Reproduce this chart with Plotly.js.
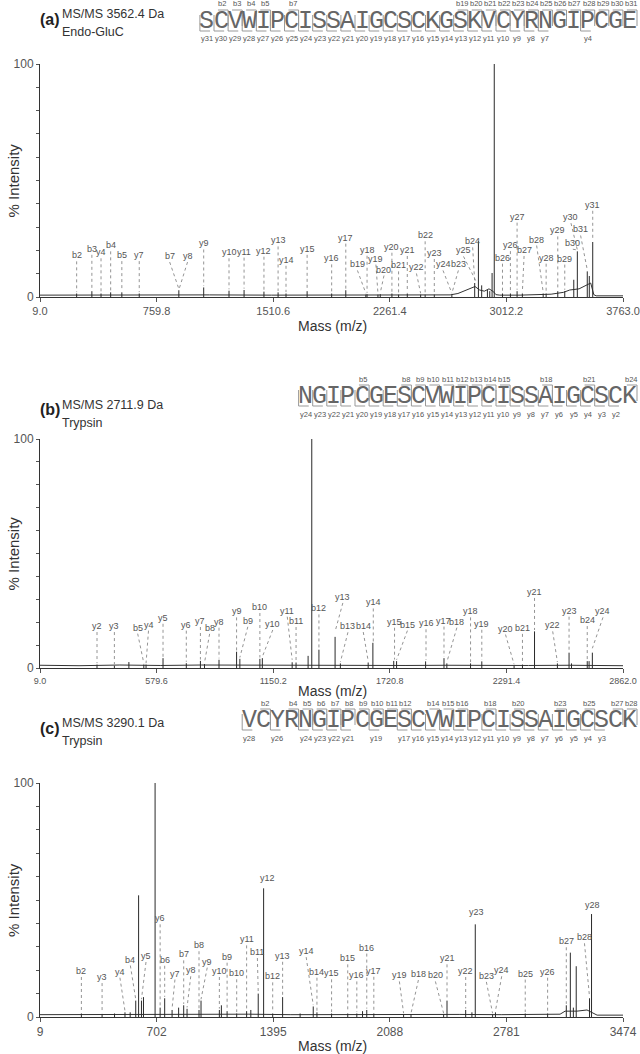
<!DOCTYPE html>
<html><head><meta charset="utf-8">
<script src="https://cdn.plot.ly/plotly-3.0.1.min.js"></script>
<style>
body{margin:0;background:#fff}
#chart{width:640px;height:1054px}
</style>
</head><body><div id="chart"></div>
<script>
// ---------------- Panel (a) ----------------
const aTitle = 'MS/MS 3562.4 Da';
const aEnzyme = 'Endo-GluC';
const aTickVals = [9.0, 759.8, 1510.6, 2261.4, 3012.2, 3763.0];
const aRange = [9.0, 3763.0];
const aPeakMz = [245,343,402,464,536,648,903,1063,1226,1323,1451,1542,1593,1729,1887,1978,2107,2115,2185,2200,2275,2318,2374,2460,2489,2548,2661,2808,2832,2853,2890,2905,2920,2934,2987,3038,3081,3115,3249,3268,3343,3388,3446,3469,3533,3546,3568];
const aPeakInt = [1.5,2.5,1.5,2,2,1.5,2.9,4.1,2.7,3,2.3,2,1.5,2.5,1.5,2.9,1,1.2,1,1.2,1.5,1,1.5,1,1,1,1,6,24,5,3,2.5,10.3,100,1.5,1.5,2.5,1.5,1.5,1.5,2.5,2.5,7.4,19.6,11,9,23.6];
const aBaseMz = [9,300,700,1100,1500,1900,2300,2650,2700,2740,2780,2810,2840,2870,2900,2925,2945,2970,3100,3300,3380,3420,3480,3520,3555,3575,3590,3763];
const aBaseInt = [0.8,0.9,0.8,0.9,0.8,0.9,0.8,0.9,1.5,2.5,3.5,4.5,3,2.5,3.5,2.5,1,0.8,0.8,1.2,2,3,3.5,5,6,1,0.5,0.5];
const aLabel = ['b2','b3','y4','b4','b5','y7','b7','y8','y9','y10','y11','y12','y13','y14','y15','y16','y17','b19','y18','y19','b20','y20','b21','y21','y22','b22','y23','y24','b23','y25','b24','b25','b26','y26','y27','b27','b28','y28','y29','b29','b30','y30','b31','y31'];
const aLabelMz = [245,343,402,464,536,648,844,959,1063,1226,1323,1451,1542,1593,1729,1887,1978,2053,2115,2172,2224,2275,2318,2374,2433,2489,2548,2604,2703,2736,2795,2934,2987,3038,3081,3126,3207,3268,3343,3388,3440,3428,3490,3568];
const aLabelInt = [15.3,18.1,16.6,19.6,15.4,15.4,15,15,20.4,16.6,16.9,17.3,21.7,13.4,18.1,14,22.9,11.4,17.7,13.9,9.2,19,11,17.6,10.1,23.9,16.3,11.4,11.4,17.4,21.3,101,14.3,19.7,31.9,17.6,22.1,14.3,26,13.9,20.5,31.7,26.4,37];
const aTargetMz = [245,343,402,464,536,648,903,905,1063,1226,1323,1451,1542,1593,1729,1887,1978,2107,2115,2185,2200,2275,2318,2374,2460,2489,2548,2661,2661,2818,2808,2934,2987,3038,3081,3115,3249,3268,3343,3388,3469,3469,3533,3568];
const aTargetInt = [1.5,2.5,1.5,2,2,1.5,2.9,2.9,4.1,2.7,3,2.3,2,1.5,2.5,1.5,2.9,1,1.2,1,1.2,1.5,1,1.5,1,1,1,1,1,6,6,101,1.5,1.5,2.5,1.5,1.5,1.5,2.5,2.5,19.6,19.6,11,23.6];
const aSeq = 'SCVWIPCISSAIGCSCKGSKVCYRNGIPCGE';
const aBIons = [2,3,4,5,7,19,20,21,22,23,24,25,26,27,28,29,30,31];
const aYIons = [31,30,29,28,27,26,25,24,23,22,21,20,19,18,17,16,15,14,13,12,11,10,9,8,7,4];

// ---------------- Panel (b) ----------------
const bTitle = 'MS/MS 2711.9 Da';
const bEnzyme = 'Trypsin';
const bTickVals = [9.0, 579.6, 1150.2, 1720.8, 2291.4, 2862.0];
const bRange = [9.0, 2862.0];
const bPeakMz = [288,373,444,517,528,611,725,794,814,885,971,987,1085,1097,1243,1262,1321,1339,1374,1453,1479,1615,1638,1740,1754,1896,1986,2000,2116,2171,2329,2370,2429,2541,2598,2610,2687,2696,2712];
const bPeakInt = [1.5,1,2.6,1.5,1.5,4.3,2.1,3.1,1.7,3.6,7.1,4,4,4.3,2.5,2.4,5.3,100,8,13.6,2,2.4,11,3.1,3,2.9,4.3,2,2,2.9,1,1.5,16,2,6.7,2,3,3,6.7];
const bBaseMz = [9,200,400,600,800,1000,1200,1400,1600,1800,2000,2200,2400,2600,2800,2862];
const bBaseInt = [1.2,1.0,1.3,1.1,1.3,1.2,1.3,1.1,1.2,1.1,1.2,1.0,1.1,1.2,1.0,1.0];
const bLabel = ['y2','y3','b5','y4','y5','y6','y7','b8','y8','y9','b9','b10','y10','y11','b11','y12','b12','y13','b13','b14','y14','y15','b15','y16','y17','b18','y18','y19','y20','b21','y21','y22','y23','b24','y24'];
const bLabelMz = [288,373,487,540,611,725,794,839,885,971,1026,1085,1148,1219,1262,1339,1374,1491,1516,1591,1640,1744,1807,1898,1986,2049,2116,2171,2287,2370,2429,2518,2598,2687,2764];
const bLabelInt = [15.7,15.7,15,16.3,19.3,16.3,17.9,14.9,17.6,22.1,18,24,16.6,22.4,17.9,101,23.4,28.4,15.6,15.7,26,17.6,16.3,16.9,18.1,17.6,22.1,16.7,14.6,14.9,30.6,16,22.4,18.3,22.1];
const bTargetMz = [288,373,517,528,611,725,794,814,885,971,987,1085,1097,1243,1262,1339,1374,1453,1479,1615,1640,1744,1754,1898,1986,2000,2116,2171,2329,2370,2429,2541,2598,2687,2712];
const bTargetInt = [1.5,1,1.5,1.5,4.3,2.1,3.1,1.7,3.6,7.1,4,4,4.3,3,2.4,101,8,15.3,2,2.4,11,3.1,3,2.9,4.3,2,2,2.9,1,1.5,16,2,6.7,3,8];
const bSeq = 'NGIPCGESCVWIPCISSAIGCSCK';
const bBIons = [5,8,9,10,11,12,13,14,15,18,21,24];
const bYIons = [24,23,22,21,20,19,18,17,16,15,14,13,12,11,10,9,8,7,6,5,4,3,2];

// ---------------- Panel (c) ----------------
const cTitle = 'MS/MS 3290.1 Da';
const cEnzyme = 'Trypsin';
const cTickVals = [9, 702, 1395, 2088, 2781, 3474];
const cRange = [9, 3474];
const cPeakMz = [255,378,452,514,545,578,595,612,624,693,723,750,794,833,863,883,954,966,1075,1087,1121,1178,1237,1262,1306,1338,1392,1451,1555,1633,1655,1742,1838,1892,1926,1951,1993,2170,2214,2408,2428,2539,2576,2596,2699,2716,2893,3026,3137,3161,3179,3196,3275,3287];
const cPeakInt = [1.5,1,1.5,2,2,7,52,7,8.5,100,4,8,3,4,5,3.5,3,7,3,5,2.5,1.5,2.5,3,10,55,1.5,8.5,1.5,4.5,2,1.5,1.5,1.5,2.5,3,1.5,1,1,1,7,3,2,39.6,1,2,1.5,1.5,5,27.5,4,21.7,8,44];
const cBaseMz = [9,250,500,750,1000,1250,1500,1750,2000,2250,2500,2750,3000,3100,3130,3200,3260,3300,3320,3474];
const cBaseInt = [1.0,1.1,1.2,1.3,1.1,1.2,1.0,1.1,1.0,1.1,1.1,1.0,1.1,1.2,2.5,2.5,3,1.5,0.8,0.8];
const cLabel = ['b2','y3','y4','b4','y5','b5','y6','b6','y7','b7','y8','b8','y9','y10','b9','b10','y11','b11','y12','b12','y13','y14','b14','y15','b15','y16','b16','y17','y19','b18','b20','y21','y22','y23','b23','y24','b25','y26','b27','b28','y28'];
const cLabelMz = [255,378,484,546,639,693,723,750,811,863,905,954,1003,1075,1121,1178,1237,1301,1362,1392,1451,1591,1655,1742,1838,1892,1951,1993,2145,2258,2359,2428,2539,2604,2662,2753,2893,3026,3137,3245,3294];
const cLabelInt = [17.1,14.5,16.8,22,23.5,101,39.6,21.9,16,24.2,17.4,28.1,21.1,17.1,23.2,16.1,30.6,25.2,57,14.8,23.6,25.6,16.8,16.1,22.5,15.2,27.1,17.2,15.2,15.8,15.2,22.5,17.1,42.3,15,17.4,16,16.8,29.8,31.5,45.4];
const cTargetMz = [255,378,514,578,612,693,723,750,794,863,883,954,966,1075,1121,1178,1237,1306,1362,1392,1451,1633,1655,1742,1838,1892,1951,1993,2170,2214,2408,2428,2539,2604,2699,2716,2893,3026,3137,3275,3294];
const cTargetInt = [1.5,1,2,7,7,101,4,8,3,5,3.5,3,7,3,2.5,1.5,2.5,10,57,1.5,8.5,4.5,2,1.5,1.5,1.5,3,1.5,1,1,1,7,3,42.3,1,2,1.5,1.5,5,8,45.4];
const cSeq = 'VCYRNGIPCGESCVWIPCISSAIGCSCK';
const cBIons = [2,4,5,6,7,8,9,10,11,12,14,15,16,18,20,23,25,27,28];
const cYIons = [28,26,24,23,22,21,19,17,16,15,14,13,12,11,10,9,8,7,6,5,4,3];

const yTickVals = [0,10,20,30,40,50,60,70,80,90,100];

// ---------------- layout helpers ----------------
const W = 640, H = 1054;
const PX = x => x / W, PY = y => 1 - y / H;
const FONT = 'Liberation Sans, Arial, sans-serif';
const traces = [], annotations = [], shapes = [];
const layout = {width: W, height: H, margin: {l:0, r:0, t:0, b:0}, showlegend: false,
  paper_bgcolor: '#fff', plot_bgcolor: '#fff', font: {family: FONT, color: '#444'}};

function ptext(xpx, ypx, text, size, color, opts) {
  annotations.push(Object.assign({xref: 'paper', yref: 'paper', x: PX(xpx), y: PY(ypx), text: text,
    showarrow: false, xanchor: 'center', yanchor: 'middle', borderpad: 0,
    font: {size: size, color: color, family: FONT}}, opts || {}));
}

function addPanel(p) {
  const xs = p.n === 1 ? '' : String(p.n);
  const xr = 'x' + xs, yr = 'y' + xs;
  layout['xaxis' + xs] = {domain: [PX(40), PX(623)], range: p.range, anchor: yr,
    tickvals: p.ticks, ticktext: p.ticks.map(v => p.dec ? v.toFixed(1) : String(v)),
    ticks: 'outside', ticklen: 4, tickcolor: '#555', showline: true, linecolor: '#333', linewidth: 1,
    showgrid: false, zeroline: false, tickfont: {size: p.tickSize, color: '#555', family: FONT}};
  layout['yaxis' + xs] = {domain: [PY(p.yBot), PY(p.yTop)], range: [0, 100], anchor: xr,
    tickvals: yTickVals, ticktext: yTickVals.map(v => (v === 0 || v === 100) ? String(v) : ''),
    ticks: 'outside', ticklen: 3, tickcolor: '#555', showline: true, linecolor: '#333', linewidth: 1,
    showgrid: false, zeroline: false, tickfont: {size: 12, color: '#555', family: FONT}};
  traces.push({type: 'scatter', mode: 'lines', x: p.baseMz, y: p.baseInt, xaxis: xr, yaxis: yr,
    line: {color: '#333', width: 1}, hoverinfo: 'skip'});
  traces.push({type: 'scatter', mode: 'lines', xaxis: xr, yaxis: yr, hoverinfo: 'skip',
    x: p.pkMz.flatMap(m => [m, m, null]), y: p.pkInt.flatMap(v => [0, v, null]),
    line: {color: '#2a2a2a', width: 1}});
  const lx = [], ly = [];
  p.lab.forEach((t, i) => {
    if (p.labMz[i] === p.tgMz[i] && p.labInt[i] === p.tgInt[i]) return;
    lx.push(p.labMz[i], p.tgMz[i], null); ly.push(p.labInt[i], p.tgInt[i] + 0.6, null);
  });
  traces.push({type: 'scatter', mode: 'lines', x: lx, y: ly, xaxis: xr, yaxis: yr, hoverinfo: 'skip',
    line: {color: '#888', width: 0.9, dash: 'dot'}});
  p.lab.forEach((t, i) => annotations.push({xref: xr, yref: yr, x: p.labMz[i], y: p.labInt[i],
    text: t, showarrow: false, xanchor: 'center', yanchor: 'bottom', borderpad: 0,
    font: {size: 9, color: '#555', family: FONT}}));
  ptext(13, (p.yTop + p.yBot) / 2, '% Intensity', 15, '#333', {textangle: -90});
  ptext(332, p.massY, 'Mass (m/z)', 14, '#333');
  ptext(39, p.tagY, '<b>(' + p.tag + ')</b>', 16, '#222', {xanchor: 'left'});
  ptext(61, p.tagY - 5, p.title, 12.5, '#333', {xanchor: 'left'});
  ptext(61, p.tagY + 13, p.enzyme, 12.5, '#333', {xanchor: 'left'});
  // sequence header
  const n = p.seq.length, w = 14.1, x0 = 637 - n * w, top = p.seqTop, bot = p.seqTop + 21;
  p.seq.split('').forEach((ch, i) => annotations.push({xref: 'paper', yref: 'paper',
    x: PX(x0 + (i + 0.5) * w), y: PY((top + bot) / 2 + 1), text: ch, showarrow: false,
    xanchor: 'center', yanchor: 'middle', borderpad: 0,
    font: {size: 25, color: '#666', family: 'Liberation Mono'}}));
  const seg = pts => 'M ' + pts.map(q => PX(q[0]) + ',' + PY(q[1])).join(' L ');
  p.bIons.forEach(k => {
    const bx = x0 + k * w;
    shapes.push({type: 'path', xref: 'paper', yref: 'paper', path: seg([[bx - 0.72 * w, top], [bx, top], [bx, bot - 5]]),
      line: {color: '#999', width: 1}});
    ptext(x0 + (k - 0.4) * w, top - 6, 'b' + k, 7.5, '#555');
  });
  p.yIons.forEach(j => {
    const k = n - j, bx = x0 + k * w;
    shapes.push({type: 'path', xref: 'paper', yref: 'paper', path: seg([[bx, top + 5], [bx, bot], [bx + 0.72 * w, bot]]),
      line: {color: '#999', width: 1}});
    ptext(x0 + (k + 0.5) * w, bot + 8, 'y' + j, 7.5, '#555');
  });
}

addPanel({n: 1, tag: 'a', title: aTitle, enzyme: aEnzyme, range: aRange, ticks: aTickVals, dec: true, tickSize: 11,
  yTop: 64, yBot: 297, massY: 326, tagY: 19, seqTop: 10,
  baseMz: aBaseMz, baseInt: aBaseInt, pkMz: aPeakMz, pkInt: aPeakInt,
  lab: aLabel, labMz: aLabelMz, labInt: aLabelInt, tgMz: aTargetMz, tgInt: aTargetInt,
  seq: aSeq, bIons: aBIons, yIons: aYIons});
addPanel({n: 2, tag: 'b', title: bTitle, enzyme: bEnzyme, range: bRange, ticks: bTickVals, dec: true, tickSize: 9,
  yTop: 439, yBot: 668, massY: 691, tagY: 410, seqTop: 385,
  baseMz: bBaseMz, baseInt: bBaseInt, pkMz: bPeakMz, pkInt: bPeakInt,
  lab: bLabel, labMz: bLabelMz, labInt: bLabelInt, tgMz: bTargetMz, tgInt: bTargetInt,
  seq: bSeq, bIons: bBIons, yIons: bYIons});
addPanel({n: 3, tag: 'c', title: cTitle, enzyme: cEnzyme, range: cRange, ticks: cTickVals, dec: false, tickSize: 12,
  yTop: 783, yBot: 1017, massY: 1046, tagY: 728, seqTop: 709,
  baseMz: cBaseMz, baseInt: cBaseInt, pkMz: cPeakMz, pkInt: cPeakInt,
  lab: cLabel, labMz: cLabelMz, labInt: cLabelInt, tgMz: cTargetMz, tgInt: cTargetInt,
  seq: cSeq, bIons: cBIons, yIons: cYIons});

layout.annotations = annotations;
layout.shapes = shapes;
Plotly.newPlot('chart', traces, layout, {staticPlot: true, displayModeBar: false});
</script>
</body></html>
